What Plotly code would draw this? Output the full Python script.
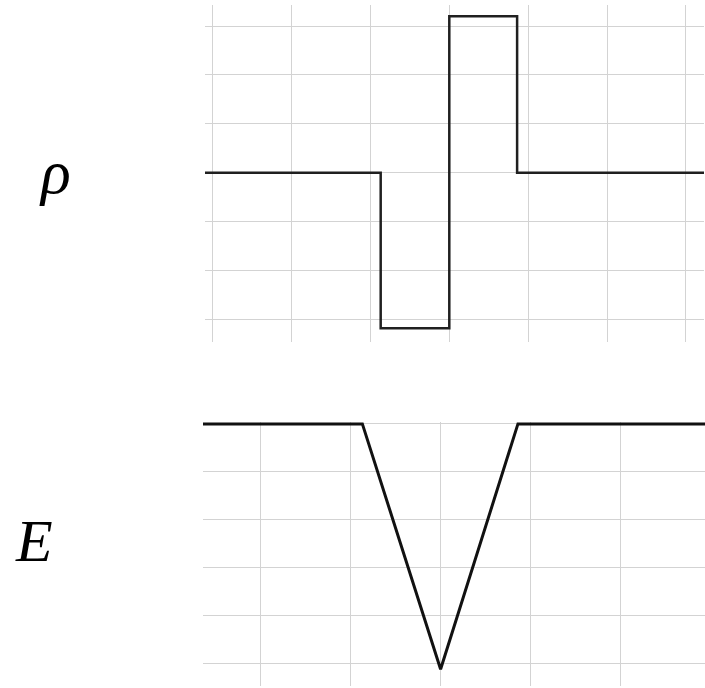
import plotly.graph_objects as go

# Charge density (step profile)
rho_x = [-0.1, 2.13, 3.0, 3.86, 6.25]
rho_val = [0, -3.18, 3.2, 0, 0]

# Electric field (V profile)
E_x = [-0.65, 1.13, 2.0, 2.86, 4.95]
E_val = [0, 0, -5.13, 0, 0]

W, H = 705, 688
fig = go.Figure()

fig.add_trace(go.Scatter(x=rho_x, y=rho_val, mode="lines", line_shape="hv",
                         line=dict(color="#202020", width=2.5),
                         xaxis="x", yaxis="y", showlegend=False, hoverinfo="skip"))
fig.add_trace(go.Scatter(x=E_x, y=E_val, mode="lines",
                         line=dict(color="#111111", width=3),
                         xaxis="x2", yaxis="y2", showlegend=False, hoverinfo="skip"))

grid = dict(showgrid=True, gridcolor="#d3d3d3", gridwidth=1, zeroline=False,
            showticklabels=False, ticks="", showline=False, dtick=1, tick0=0,
            fixedrange=True)

fig.update_layout(
    width=W, height=H,
    margin=dict(l=0, r=0, t=0, b=0),
    paper_bgcolor="white", plot_bgcolor="white",
    xaxis=dict(domain=[205 / W, 704 / W], range=[-0.098, 6.23], anchor="y", **grid),
    yaxis=dict(domain=[1 - 342 / H, 1 - 5 / H], range=[-3.46, 3.43], anchor="x", **grid),
    xaxis2=dict(domain=[203 / W, 1.0], range=[-0.642, 4.94], anchor="y2", **grid),
    yaxis2=dict(domain=[1 - 686 / H, 1 - 422 / H], range=[-5.48, 0.04], anchor="x2", **grid),
    annotations=[
        dict(text="ρ", x=55 / W, y=1 - 172 / H, xref="paper", yref="paper",
             showarrow=False, xanchor="center", yanchor="middle",
             font=dict(family="Liberation Serif", size=62, color="black",
                       style="italic")),
        dict(text="E", x=34 / W, y=1 - 541 / H, xref="paper", yref="paper",
             showarrow=False, xanchor="center", yanchor="middle",
             font=dict(family="Liberation Serif", size=60, color="black",
                       style="italic")),
    ],
)

fig.write_html("out.html",
               config={"displayModeBar": False, "staticPlot": True},
               post_script="document.body.style.margin='0';"
                           "document.body.style.overflow='hidden';")
